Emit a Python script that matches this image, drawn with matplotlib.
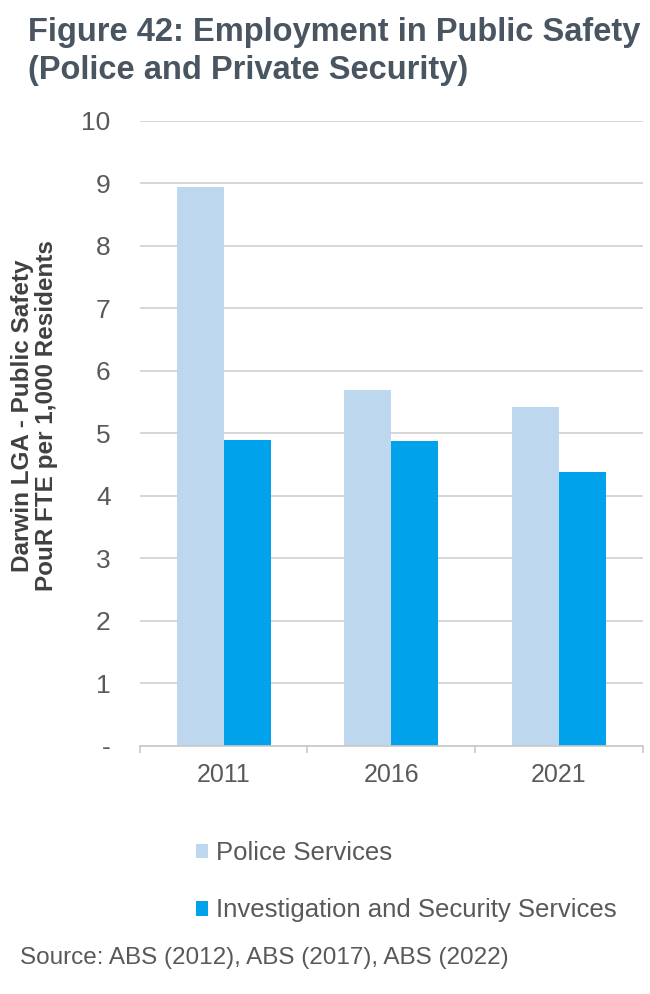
import matplotlib.pyplot as plt
import numpy as np

plt.rcParams['font.family'] = ['Liberation Sans', 'DejaVu Sans']

years = ["2011", "2016", "2021"]
police = [8.95, 5.7, 5.42]
security = [4.9, 4.88, 4.38]
series_names = ["Police Services", "Investigation and Security Services"]
yticks = [0, 1, 2, 3, 4, 5, 6, 7, 8, 9, 10]
ytick_labels = ["-", "1", "2", "3", "4", "5", "6", "7", "8", "9", "10"]

light = "#BDD7EE"
dark = "#00A3EB"
grey = "#595959"

fig = plt.figure(figsize=(6.5, 9.94), dpi=100)
ax = fig.add_axes([0.215, 0.2495, 0.774, 0.6288])

x = np.arange(len(years))
w = 0.28
ax.bar(x - w / 2, police, width=w, color=light, label=series_names[0], zorder=2)
ax.bar(x + w / 2, security, width=w, color=dark, label=series_names[1], zorder=2)

ax.set_xlim(-0.5, 2.5)
ax.set_ylim(0, 10)
ax.set_yticks(yticks)
ax.set_yticklabels(ytick_labels, fontsize=19, color=grey)
ax.yaxis.grid(True, color="#D0D0D0", linewidth=1.2, zorder=0)
ax.tick_params(axis='y', length=0, pad=21)

ax.set_xticks(x)
ax.set_xticklabels(years, fontsize=18, color=grey)
ax.set_xticks([-0.5, 0.5, 1.5, 2.5], minor=True)
ax.tick_params(axis='x', which='major', length=0, pad=12)
ax.tick_params(axis='x', which='minor', length=5, color="#C8C8C8", width=1.2)

for s in ["top", "right", "left"]:
    ax.spines[s].set_visible(False)
ax.spines["bottom"].set_color("#C8C8C8")
ax.spines["bottom"].set_linewidth(1.2)

fig.text(0.053, 0.582, "Darwin LGA - Public Safety\nPouR FTE per 1,000 Residents",
         rotation=90, fontsize=17.5, fontweight="bold", color="#404040",
         ha="center", va="center", multialignment="center", linespacing=1.05)

fig.text(0.043, 0.983, "Figure 42: Employment in Public Safety\n(Police and Private Security)",
         fontsize=23.5, fontweight="bold", color="#4A5562", va="top", ha="left",
         linespacing=1.3)

ax.legend(loc="upper left", bbox_to_anchor=(0.065, -0.115), frameon=False,
          fontsize=18.5, labelcolor=grey, handlelength=0.5, handleheight=0.5,
          handletextpad=0.3, labelspacing=1.3)

fig.text(0.03, 0.036, "Source: ABS (2012), ABS (2017), ABS (2022)",
         fontsize=17.5, color=grey, ha="left", va="center")

fig.savefig("out.png", dpi=100)
